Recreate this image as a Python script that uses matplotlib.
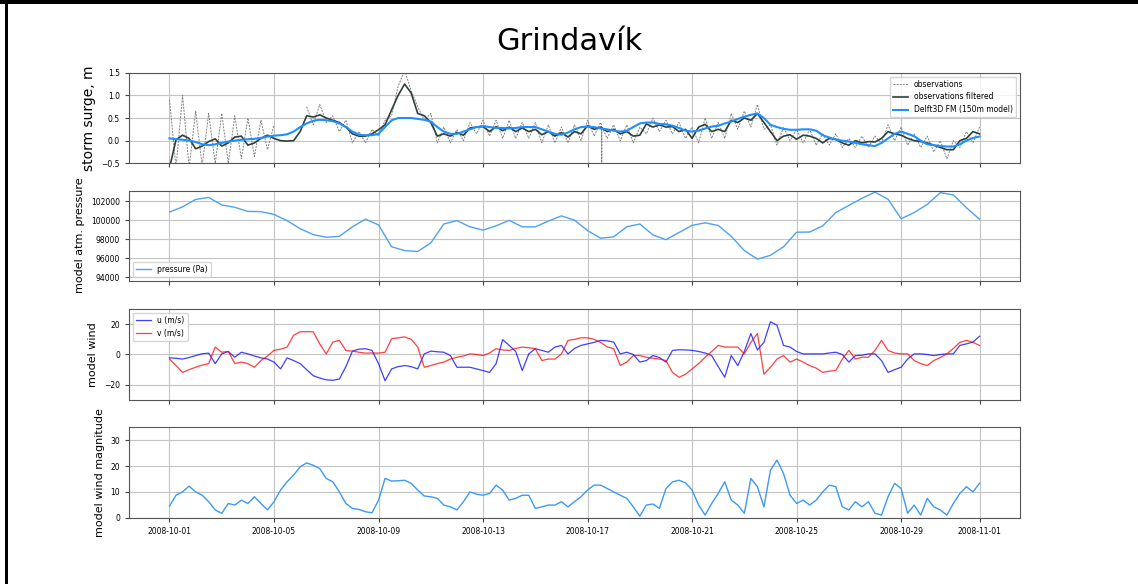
import numpy as np
import pandas as pd
import matplotlib
matplotlib.use('Agg')
import matplotlib.pyplot as plt
import matplotlib.dates as mdates
from matplotlib.patches import Rectangle

nan = np.nan
start = '2008-10-01'
t6 = pd.date_range(start, periods=125, freq='6h')    # 6-hourly, 10-01 .. 11-01
t12 = pd.date_range(start, periods=63, freq='12h')   # 12-hourly

# storm surge [m], one row per day (00, 06, 12, 18 h)
obs = [0.9, -0.6, 1.0, -0.6,  0.65, -0.55, 0.6, -0.5,  0.6, -0.5, 0.55, -0.4,
       0.5, -0.35, 0.45, -0.2,  0.35, nan, nan, nan,  nan, 0.75, 0.35, 0.8,
       0.4, 0.55, 0.2, 0.45,  -0.05, 0.2, -0.05, 0.25,  0.1, 0.45, 0.55, 1.2,
       1.55, 1.1, 0.75, 0.45,  0.6, -0.05, 0.3, -0.05,  0.25, 0.0, 0.4, 0.15,
       0.45, 0.1, 0.45, 0.05,  0.45, 0.05, 0.4, 0.05,  0.4, -0.05, 0.35, -0.05,
       0.3, -0.05, 0.35, 0.0,  0.45, 0.1, 0.4, 0.05,  0.35, 0.0, 0.35, -0.05,
       0.3, 0.15, 0.5, 0.2,  0.45, 0.15, 0.4, 0.05,  0.3, -0.05, 0.5, 0.05,
       0.4, 0.05, 0.6, 0.25,  0.65, 0.3, 0.8, 0.25,  0.35, -0.1, 0.3, 0.0,
       0.25, -0.05, 0.25, -0.1,  0.15, -0.1, 0.15, -0.15,  0.05, -0.15, 0.1, -0.15,
       0.1, -0.05, 0.35, 0.0,  0.3, -0.1, 0.15, -0.15,  0.1, -0.25, 0.0, -0.4,
       0.0, -0.15, 0.2, -0.05,  0.3]
spike_times = ['2008-10-17 12:50', '2008-10-17 13:00', '2008-10-17 13:10']
spike_vals = [0.35, -0.55, 0.3]

filtered = [-0.6, 0.02, 0.12, 0.05,  -0.18, -0.12, -0.02, 0.04,  -0.12, -0.05, 0.08, 0.1,
            -0.1, -0.05, 0.05, 0.12,  0.05, 0.0, -0.01, 0.0,  0.2, 0.55, 0.52, 0.57,
            0.5, 0.45, 0.4, 0.3,  0.15, 0.1, 0.1, 0.15,  0.24, 0.35, 0.68, 1.0,
            1.25, 1.05, 0.6, 0.55,  0.4, 0.1, 0.15, 0.1,  0.18, 0.12, 0.28, 0.3,
            0.31, 0.2, 0.31, 0.22,  0.3, 0.2, 0.28, 0.2,  0.25, 0.13, 0.2, 0.1,
            0.18, 0.08, 0.2, 0.15,  0.33, 0.25, 0.3, 0.2,  0.25, 0.15, 0.2, 0.1,
            0.12, 0.37, 0.3, 0.35,  0.3, 0.31, 0.2, 0.25,  0.05, 0.3, 0.36, 0.2,
            0.25, 0.2, 0.45, 0.4,  0.5, 0.45, 0.6, 0.4,  0.2, 0.0, 0.1, 0.13,
            0.03, 0.12, 0.1, 0.05,  -0.05, 0.05, 0.03, -0.05,  -0.1, 0.0, -0.05, -0.02,
            -0.03, 0.05, 0.2, 0.15,  0.12, 0.05, 0.0, -0.02,  -0.05, -0.1, -0.15, -0.2,
            -0.2, 0.0, 0.05, 0.2,  0.15]

model = [0.05, 0.03, 0.02, 0.0,  -0.03, -0.08, -0.1, -0.08,  -0.05, -0.02, 0.0, 0.02,
         0.03, 0.04, 0.06, 0.09,  0.11, 0.12, 0.14, 0.2,  0.3, 0.38, 0.44, 0.46,
         0.45, 0.43, 0.38, 0.3,  0.2, 0.13, 0.12, 0.12,  0.15, 0.3, 0.45, 0.5,
         0.5, 0.5, 0.48, 0.46,  0.42, 0.3, 0.2, 0.15,  0.15, 0.2, 0.25, 0.3,
         0.32, 0.3, 0.28, 0.28,  0.27, 0.28, 0.3, 0.3,  0.3, 0.25, 0.2, 0.15,
         0.13, 0.18, 0.25, 0.3,  0.31, 0.3, 0.27, 0.25,  0.22, 0.2, 0.22, 0.3,
         0.38, 0.4, 0.4, 0.37,  0.36, 0.33, 0.28, 0.22,  0.2, 0.22, 0.27, 0.31,
         0.33, 0.38, 0.42, 0.48,  0.53, 0.57, 0.6, 0.5,  0.35, 0.3, 0.26, 0.24,
         0.24, 0.25, 0.25, 0.22,  0.12, 0.07, 0.02, 0.0,  -0.02, -0.05, -0.08, -0.1,
         -0.12, -0.05, 0.05, 0.15,  0.2, 0.15, 0.1, 0.0,  -0.08, -0.1, -0.12, -0.13,
         -0.13, -0.08, 0.0, 0.06,  0.09]

# atmospheric pressure [Pa], 12-hourly
pressure = [100850, 101400, 102180, 102400, 101600, 101350, 100920, 100900,
            100600, 99950, 99100, 98480, 98200, 98300, 99300, 100100,
            99500, 97200, 96800, 96700, 97600, 99600, 99950, 99300,
            98950, 99400, 99980, 99300, 99300, 99900, 100450, 100000,
            98900, 98100, 98250, 99300, 99600, 98450, 97950, 98700,
            99450, 99720, 99440, 98300, 96800, 95900, 96300, 97200,
            98730, 98750, 99400, 100800, 101550, 102300, 102950, 102200,
            100150, 100800, 101650, 102900, 102650, 101300, 100100]

# wind components [m/s], 6-hourly
wind_u = [-2.2, -2.5, -3.0, -2.0,  -0.7, 0.5, 0.9, -6.0,  0.4, 2.0, -1.8, 1.5,
          0.4, -1.0, -2.2, -3.0,  -5.0, -9.5, -2.2, -4.0,  -6.0, -10.0, -14.0, -15.5,
          -16.7, -17.0, -16.2, -8.0,  2.2, 3.5, 3.8, 2.7,  -6.0, -17.3, -9.5, -8.0,
          -7.3, -8.0, -9.5, 0.4,  2.2, 1.8, 1.5, -0.7,  -8.4, -8.4, -8.4, -9.5,
          -10.6, -11.8, -6.0, 9.8,  6.0, 2.0, -10.6, 0.4,  3.8, 2.7, 1.5, 4.9,
          6.0, 0.4, 4.0, 6.0,  7.0, 8.0, 9.3, 9.0,  8.2, 0.4, 1.5, 0.0,
          -5.0, -4.0, -0.7, -2.0,  -5.0, 2.7, 3.1, 3.0,  2.7, 2.0, 1.0, -0.7,
          -8.0, -15.0, -0.7, -7.3,  2.0, 13.8, 3.0, 8.0,  21.6, 19.3, 6.0, 4.9,
          2.0, 0.4, 0.4, 0.4,  0.4, 1.0, 1.5, 0.0,  -5.0, -0.7, -0.5, 0.4,
          0.4, -4.0, -11.8, -10.0,  -8.4, -3.0, 0.4, 0.4,  0.0, -0.7, 0.0, 0.4,
          0.4, 6.0, 7.0, 8.2,  12.0]

wind_v = [-3.0, -7.3, -11.8, -10.0,  -8.4, -7.0, -6.0, 4.9,  1.5, 2.0, -6.0, -5.0,
          -6.0, -8.4, -4.0, -1.0,  2.7, 3.5, 4.9, 12.7,  15.0, 15.0, 15.0, 7.0,
          0.4, 8.2, 9.3, 2.7,  2.2, 1.5, 0.9, 1.0,  0.9, 1.5, 10.4, 11.0,
          11.6, 10.0, 4.9, -8.4,  -7.3, -6.0, -5.0, -3.0,  -1.8, -1.0, 0.4, 0.0,
          -0.7, 1.0, 3.8, 3.0,  2.7, 4.0, 4.9, 4.5,  3.8, -4.0, -3.0, -3.0,
          0.4, 9.3, 10.0, 11.0,  11.0, 10.0, 8.0, 5.0,  3.8, -7.3, -5.0, -0.7,
          -0.7, -1.8, -2.5, -3.0,  -4.0, -11.8, -15.0, -13.0,  -9.5, -6.0, -1.8, 2.0,
          6.0, 4.9, 4.9, 4.9,  0.4, 8.0, 13.8, -13.0,  -8.4, -3.0, -0.7, -5.0,
          -3.0, -5.0, -7.3, -9.0,  -11.8, -11.0, -10.6, -3.0,  2.7, -3.0, -1.8, -1.8,
          2.7, 9.3, 2.7, 1.0,  0.4, 0.4, -4.0, -6.0,  -7.3, -4.0, -2.0, 0.4,
          4.0, 8.0, 9.3, 8.0,  6.0]

wind_mag = [4.5, 8.7, 10.0, 12.2,  10.0, 8.7, 6.2, 3.0,  1.7, 5.5, 4.9, 6.8,
            5.5, 8.1, 5.5, 3.0,  6.2, 10.7, 13.9, 16.5,  19.7, 21.2, 20.3, 19.0,
            15.2, 13.9, 10.0, 5.5,  3.6, 3.2, 2.3, 1.9,  6.8, 15.2, 14.2, 14.3,
            14.5, 13.3, 10.7, 8.4,  8.1, 7.5, 4.9, 4.2,  3.0, 6.2, 10.0, 9.1,
            8.7, 9.4, 12.6, 10.7,  6.8, 7.5, 8.7, 8.7,  3.6, 4.2, 4.9, 4.9,
            6.2, 4.2, 6.2, 8.1,  10.7, 12.6, 12.6, 11.3,  10.0, 8.7, 7.5, 4.2,
            0.6, 4.9, 5.3, 3.6,  11.3, 13.9, 14.5, 13.5,  10.7, 4.9, 1.0, 5.5,
            9.4, 13.9, 6.8, 4.9,  1.7, 15.2, 12.0, 4.2,  18.4, 22.3, 17.1, 8.7,
            5.5, 6.8, 4.9, 6.8,  10.0, 12.6, 12.0, 4.2,  3.0, 6.2, 4.2, 6.2,
            1.7, 1.0, 8.1, 13.3,  11.3, 1.7, 4.9, 1.0,  7.5, 4.2, 3.0, 1.0,
            5.5, 9.4, 12.0, 10.0,  13.3]

tick_dates = ['2008-10-01', '2008-10-05', '2008-10-09', '2008-10-13', '2008-10-17',
              '2008-10-21', '2008-10-25', '2008-10-29', '2008-11-01']

W, H = 1138, 584
fig = plt.figure(figsize=(W / 100, H / 100), dpi=100)

# border lines seen on the original image
fig.add_artist(Rectangle((0, 1 - 3.5 / H), 1, 3.5 / H, transform=fig.transFigure,
                         color='black', lw=0))
fig.add_artist(Rectangle((5 / W, 0), 2.5 / W, 1, transform=fig.transFigure,
                         color='black', lw=0))

fig.text(0.5, 1 - 41 / H, 'Grindavík', ha='center', va='center', fontsize=22)

def make_ax(top, bottom):
    left, right = 129, 1020
    return fig.add_axes([left / W, 1 - bottom / H, (right - left) / W, (bottom - top) / H])

ax1 = make_ax(72.7, 163.3)
ax2 = make_ax(190.7, 280.5)
ax3 = make_ax(309, 400)
ax4 = make_ax(427.3, 517.7)

obs_s = pd.Series(obs, index=t6)
obs_s = pd.concat([obs_s, pd.Series(spike_vals, index=pd.to_datetime(spike_times))]).sort_index()

ax1.plot(obs_s.index, obs_s.values, ls='--', dashes=(2, 1.2), color='gray', lw=0.7,
         label='observations')
ax1.plot(t6, filtered, color='#2f3f3a', lw=1.2, label='observations filtered')
ax1.plot(t6, model, color='#1e8fff', lw=1.5, label='Delft3D FM (150m model)')
ax1.set_ylim(-0.5, 1.5)
ax1.set_yticks([-0.5, 0.0, 0.5, 1.0, 1.5])
ax1.set_ylabel('storm surge, m', fontsize=10)
ax1.legend(loc='upper right', fontsize=5.5)

ax2.plot(t12, pressure, color='#4da3f0', lw=1.0, label='pressure (Pa)')
ax2.set_ylim(93650, 103100)
ax2.set_yticks([94000, 96000, 98000, 100000, 102000])
ax2.set_ylabel('model atm. pressure', fontsize=8)
ax2.legend(loc='lower left', fontsize=5.5)

ax3.plot(t6, wind_u, color='blue', alpha=0.75, lw=0.9, label='u (m/s)')
ax3.plot(t6, wind_v, color='red', alpha=0.75, lw=0.9, label='v (m/s)')
ax3.set_ylim(-30, 30)
ax3.set_yticks([-20, 0, 20])
ax3.set_ylabel('model wind', fontsize=8)
ax3.legend(loc='upper left', fontsize=5.5)

ax4.plot(t6, wind_mag, color='#3a9af5', lw=1.0)
ax4.set_ylim(0, 35)
ax4.set_yticks([0, 10, 20, 30])
ax4.set_ylabel('model wind magnitude', fontsize=8)

ticks = pd.to_datetime(tick_dates)
for ax in (ax1, ax2, ax3, ax4):
    ax.set_xlim(pd.Timestamp('2008-09-29 10:48'), pd.Timestamp('2008-11-02 13:12'))
    ax.set_xticks(ticks)
    ax.xaxis.set_major_formatter(mdates.DateFormatter('%Y-%m-%d'))
    ax.grid(True, color='#c4c4c4', lw=0.8)
    ax.tick_params(labelsize=5.5, length=3, color='#444444')
    for sp in ax.spines.values():
        sp.set_color('#555555')
for ax in (ax1, ax2, ax3):
    ax.tick_params(labelbottom=False)

fig.savefig('out.png', dpi=100)
